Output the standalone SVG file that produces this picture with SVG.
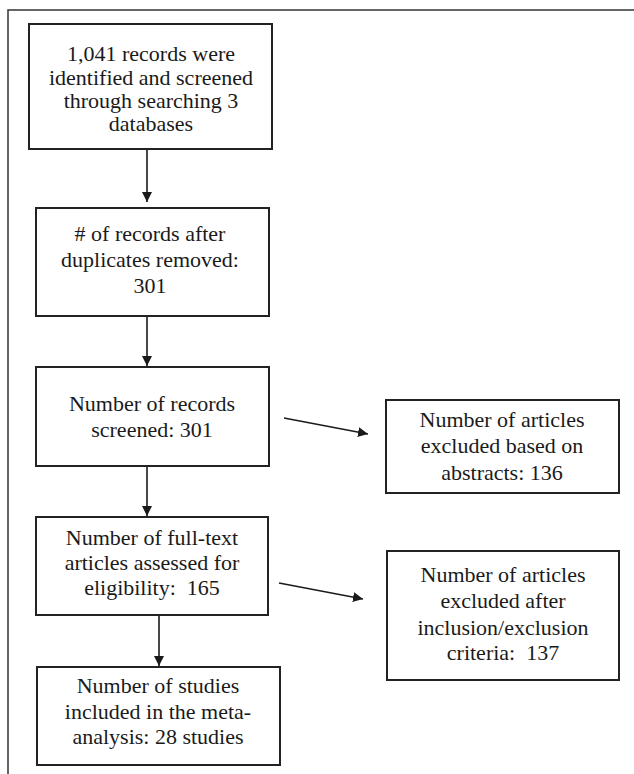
<svg xmlns="http://www.w3.org/2000/svg" width="634" height="774" viewBox="0 0 634 774">
<style>
.box{fill:#fff;stroke:#222;stroke-width:2}
.t{font-family:"Liberation Serif","Times New Roman",serif;font-size:22px;fill:#1a1a1a;text-anchor:middle;white-space:pre}
.c{stroke:#1a1a1a;stroke-width:1.6;fill:none;marker-end:url(#ah)}
.frame{stroke:#333;stroke-width:1.5;fill:none}
</style>
<defs>
<marker id="ah" markerWidth="10" markerHeight="10" refX="10" refY="5" orient="auto" markerUnits="userSpaceOnUse" viewBox="0 0 10 10">
<path d="M0,0 L10,5 L0,10 Z" fill="#1a1a1a"/>
</marker>
</defs>
<path class="frame" d="M8,774 L8,10 L634,10"/>
<g id="connectors">
<line class="c" x1="147" y1="149" x2="147" y2="202"/>
<line class="c" x1="147" y1="316" x2="147" y2="366"/>
<line class="c" x1="147" y1="466" x2="147" y2="516"/>
<line class="c" x1="159" y1="615" x2="159" y2="666"/>
<line class="c" x1="284" y1="418" x2="368" y2="434"/>
<line class="c" x1="279" y1="583" x2="363" y2="599"/>
</g>
<g id="n1">
<rect class="box" x="29" y="24" width="243" height="125"/>
<text class="t" x="151" y="61">1,041 records were</text>
<text class="t" x="151" y="85">identified and screened</text>
<text class="t" x="151" y="108">through searching 3</text>
<text class="t" x="151" y="131">databases</text>
</g>
<g id="n2">
<rect class="box" x="36" y="208" width="233" height="108"/>
<text class="t" x="150" y="241"># of records after</text>
<text class="t" x="150" y="267">duplicates removed:</text>
<text class="t" x="150" y="293">301</text>
</g>
<g id="n3">
<rect class="box" x="36" y="367" width="233" height="99"/>
<text class="t" x="152" y="411">Number of records</text>
<text class="t" x="152" y="437">screened: 301</text>
</g>
<g id="n4">
<rect class="box" x="36" y="517" width="232" height="98"/>
<text class="t" x="152" y="545">Number of full-text</text>
<text class="t" x="152" y="570">articles assessed for</text>
<text class="t" x="152" y="595" xml:space="preserve">eligibility:  165</text>
</g>
<g id="n5">
<rect class="box" x="37" y="667" width="243" height="98"/>
<text class="t" x="158" y="693">Number of studies</text>
<text class="t" x="158" y="719">included in the meta-</text>
<text class="t" x="158" y="744">analysis: 28 studies</text>
</g>
<g id="r1">
<rect class="box" x="386" y="400" width="233" height="93"/>
<text class="t" x="502" y="427">Number of articles</text>
<text class="t" x="502" y="453">excluded based on</text>
<text class="t" x="502" y="480">abstracts: 136</text>
</g>
<g id="r2">
<rect class="box" x="387" y="551" width="232" height="129"/>
<text class="t" x="503" y="582">Number of articles</text>
<text class="t" x="503" y="608">excluded after</text>
<text class="t" x="503" y="635">inclusion/exclusion</text>
<text class="t" x="503" y="660" xml:space="preserve">criteria:  137</text>
</g>
</svg>
